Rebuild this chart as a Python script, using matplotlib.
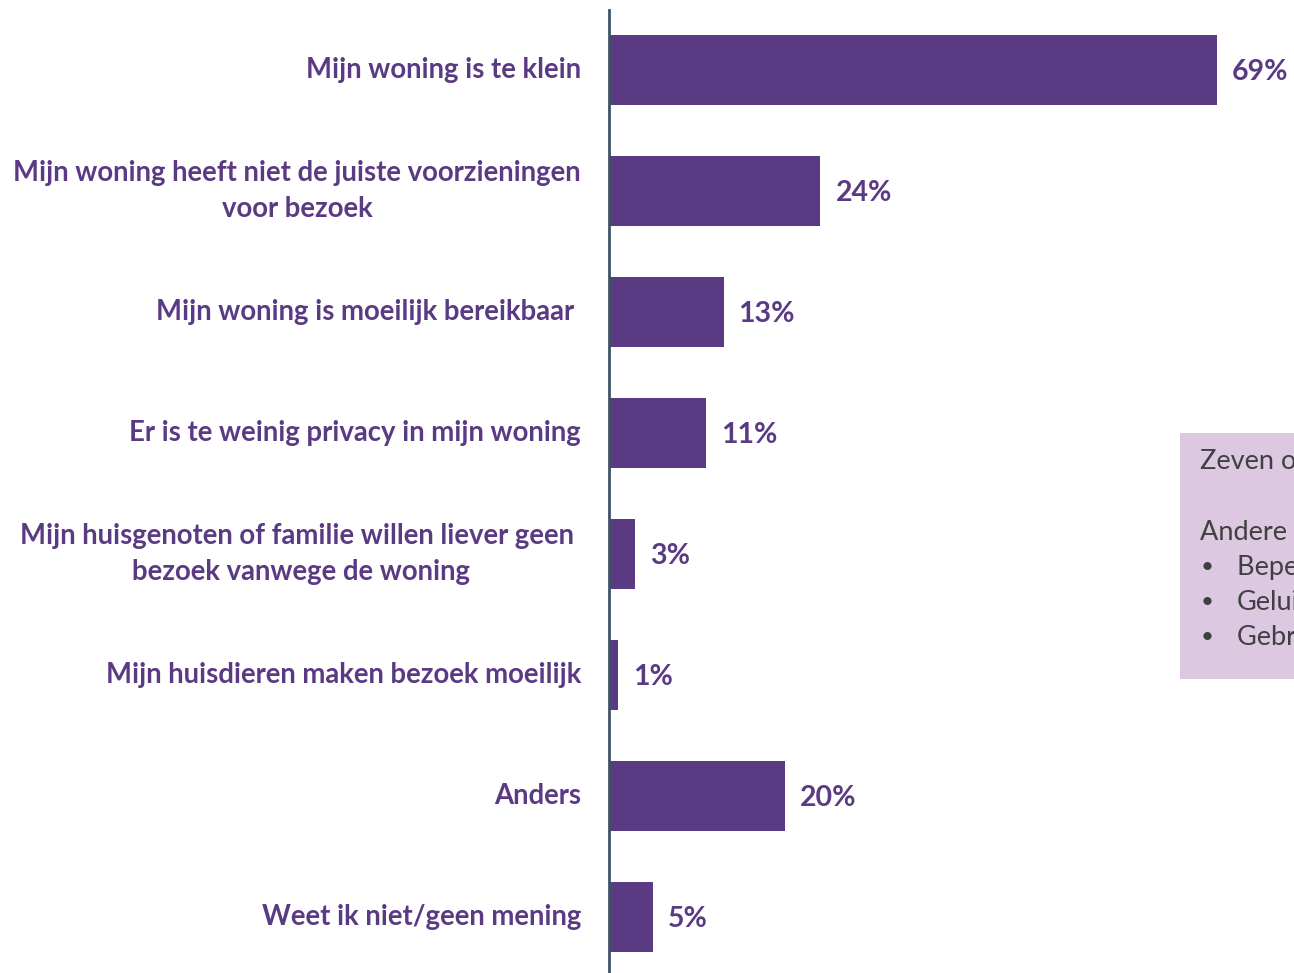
import numpy as np
import matplotlib.pyplot as plt
from matplotlib.patches import Rectangle

# ── Data ─────────────────────────────────────────────────────────────────────
categories = [
    "Mijn woning is te klein",
    "Mijn woning heeft niet de juiste voorzieningen\nvoor bezoek",
    "Mijn woning is moeilijk bereikbaar ",
    "Er is te weinig privacy in mijn woning",
    "Mijn huisgenoten of familie willen liever geen \nbezoek vanwege de woning",
    "Mijn huisdieren maken bezoek moeilijk",
    "Anders",
    "Weet ik niet/geen mening",
]
values = [69, 24, 13, 11, 3, 1, 20, 5]
value_labels = ["69%", "24%", "13%", "11%", "3%", "1%", "20%", "5%"]

box_lines = [
    "Zeven op de tien",
    "",
    "Andere redenen:",
]
box_bullets = ["Beperkte ruimte", "Geluidsoverlast", "Gebrek aan parkeerplaatsen"]

# ── Style ────────────────────────────────────────────────────────────────────
PURPLE = "#5B3A84"
AXIS_COLOR = "#3E5366"
BOX_COLOR = "#DCC8E1"
BOX_TEXT = "#404040"
FONT = ["Lato", "DejaVu Sans"]

W, H = 1294, 973
fig = plt.figure(figsize=(W / 100, H / 100), dpi=100)

# axes placed so that the value axis starts at the vertical line (x=609 px)
ax_left = 609
ax_top = 10
px_per_unit = (1217 - 609) / 69
ax_w = W - ax_left
ax = fig.add_axes([ax_left / W, 0, ax_w / W, (H - ax_top) / H])
ax.set_xlim(0, ax_w / px_per_unit)

first_center, step = 70, 121
ax.set_ylim((H - first_center) / step, (ax_top - first_center) / step)

y = np.arange(len(categories))
ax.barh(y, values, height=70 / step, color=PURPLE, zorder=2)

for yi, v, lab in zip(y, values, value_labels):
    ax.text(v + 15 / px_per_unit, yi + 0.02, lab, va="center", ha="left",
            fontsize=20.5, fontweight="bold", color=PURPLE, family=FONT)

for yi, cat in zip(y, categories):
    ax.text(-28 / px_per_unit, yi, cat, va="center", ha="right",
            multialignment="center", fontsize=19.8, fontweight="bold",
            color=PURPLE, family=FONT, linespacing=1.45, clip_on=False)

for s in ["top", "right", "bottom"]:
    ax.spines[s].set_visible(False)
ax.spines["left"].set_color(AXIS_COLOR)
ax.spines["left"].set_linewidth(2)
ax.set_xticks([])
ax.set_yticks([])

# ── Comment box on the right (cut off by the figure edge) ────────────────────
bx, by0, by1 = 1180, 433, 679
fig.patches.append(Rectangle((bx / W, 1 - by1 / H), 400 / W, (by1 - by0) / H,
                             transform=fig.transFigure, facecolor=BOX_COLOR,
                             edgecolor="none", zorder=0))
line_y = 462
for line in box_lines:
    fig.text(1200 / W, 1 - line_y / H, line, va="center", ha="left",
             fontsize=19.5, color=BOX_TEXT, family=FONT)
    line_y += 35
for item in box_bullets:
    fig.text(1201 / W, 1 - line_y / H, "•", va="center", ha="left",
             fontsize=16, color=BOX_TEXT, family=FONT)
    fig.text(1237 / W, 1 - line_y / H, item, va="center", ha="left",
             fontsize=19.5, color=BOX_TEXT, family=FONT)
    line_y += 35

fig.savefig("out.png", dpi=100)
